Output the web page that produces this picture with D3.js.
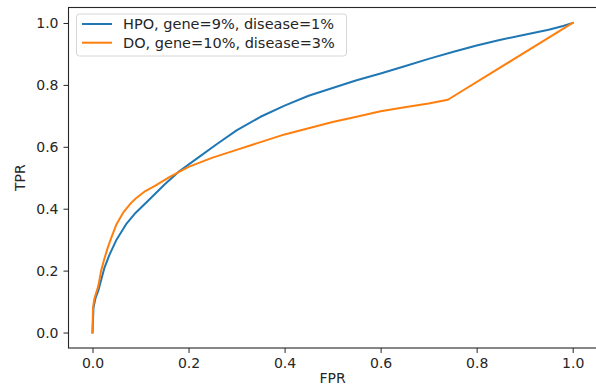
<!DOCTYPE html>
<html>
<head>
<meta charset="utf-8">
<script src="https://cdn.jsdelivr.net/npm/d3@7"></script>
<style>
  body { margin: 0; background: #fff; }
  svg { display: block; font-family: "DejaVu Sans", sans-serif; }
</style>
</head>
<body>
<div id="chart"></div>
<script>
const width = 596;
const height = 386;

// HPO curve
const hpoFpr = [0, 0.002, 0.006, 0.012, 0.018, 0.025, 0.035, 0.05, 0.07, 0.09, 0.12, 0.15, 0.18, 0.22, 0.26, 0.30, 0.35, 0.40, 0.45, 0.50, 0.55, 0.60, 0.65, 0.70, 0.75, 0.80, 0.85, 0.90, 0.95, 0.98, 1.0];
const hpoTpr = [0, 0.08, 0.11, 0.135, 0.17, 0.21, 0.25, 0.30, 0.35, 0.387, 0.432, 0.478, 0.52, 0.565, 0.61, 0.653, 0.697, 0.733, 0.765, 0.79, 0.815, 0.837, 0.86, 0.884, 0.906, 0.927, 0.946, 0.962, 0.978, 0.99, 1.0];

// DO curve
const doFpr = [0, 0.001, 0.004, 0.008, 0.012, 0.018, 0.025, 0.032, 0.04, 0.05, 0.065, 0.08, 0.09, 0.11, 0.13, 0.16, 0.20, 0.25, 0.30, 0.35, 0.40, 0.45, 0.50, 0.55, 0.60, 0.65, 0.70, 0.74, 1.0];
const doTpr = [0, 0.08, 0.11, 0.13, 0.15, 0.20, 0.24, 0.275, 0.31, 0.35, 0.39, 0.418, 0.433, 0.457, 0.474, 0.502, 0.535, 0.565, 0.59, 0.615, 0.64, 0.66, 0.68, 0.697, 0.715, 0.728, 0.74, 0.752, 1.0];

const seriesNames = ["HPO, gene=9%, disease=1%", "DO, gene=10%, disease=3%"];
const seriesColors = ["#1f77b4", "#ff7f0e"];
const ticks = [0, 0.2, 0.4, 0.6, 0.8, 1.0];

const series = [
  { name: seriesNames[0], color: seriesColors[0], points: hpoFpr.map((f, i) => [f, hpoTpr[i]]) },
  { name: seriesNames[1], color: seriesColors[1], points: doFpr.map((f, i) => [f, doTpr[i]]) },
];

const x = d3.scaleLinear().domain([-0.05, 1.05]).range([68.5, 596.7]);
const y = d3.scaleLinear().domain([-0.05, 1.05]).range([348, 7.5]);

const svg = d3.select("#chart").append("svg")
  .attr("width", width)
  .attr("height", height);

const line = d3.line()
  .x((d) => x(d[0]))
  .y((d) => y(d[1]));

svg.append("g")
  .selectAll("path")
  .data(series)
  .enter()
  .append("path")
  .attr("d", (d) => line(d.points))
  .attr("fill", "none")
  .attr("stroke", (d) => d.color)
  .attr("stroke-width", 2)
  .attr("stroke-linejoin", "round")
  .attr("stroke-linecap", "square");

// axes
const fmt = d3.format(".1f");
const xAxis = svg.append("g")
  .attr("transform", `translate(0,${y.range()[0]})`)
  .call(d3.axisBottom(x).tickValues(ticks).tickFormat(fmt).tickSize(5).tickPadding(5).tickSizeOuter(0));
const yAxis = svg.append("g")
  .attr("transform", `translate(${x.range()[0]},0)`)
  .call(d3.axisLeft(y).tickValues(ticks).tickFormat(fmt).tickSize(5).tickPadding(5).tickSizeOuter(0));

[xAxis, yAxis].forEach((g) => {
  g.selectAll("text")
    .attr("font-family", "DejaVu Sans, sans-serif")
    .attr("font-size", 14)
    .attr("fill", "#262626");
  g.selectAll("line").attr("stroke", "#262626").attr("stroke-width", 1);
  g.select(".domain").remove();
});

// frame
svg.append("rect")
  .attr("x", x.range()[0])
  .attr("y", y.range()[1])
  .attr("width", x.range()[1] - x.range()[0])
  .attr("height", y.range()[0] - y.range()[1])
  .attr("fill", "none")
  .attr("stroke", "#262626")
  .attr("stroke-width", 1.1);

// axis labels
svg.append("text")
  .attr("x", (x.range()[0] + x.range()[1]) / 2)
  .attr("y", 383)
  .attr("text-anchor", "middle")
  .attr("font-size", 14)
  .attr("fill", "#262626")
  .text("FPR");

svg.append("text")
  .attr("transform", `translate(25,${(y.range()[0] + y.range()[1]) / 2}) rotate(-90)`)
  .attr("text-anchor", "middle")
  .attr("font-size", 14)
  .attr("fill", "#262626")
  .text("TPR");

// legend
const legend = svg.append("g");
legend.append("rect")
  .attr("x", 76.5)
  .attr("y", 14)
  .attr("width", 270)
  .attr("height", 42)
  .attr("rx", 3)
  .attr("fill", "#fff")
  .attr("fill-opacity", 0.8)
  .attr("stroke", "#d6d6d6")
  .attr("stroke-width", 1);

const items = legend.selectAll("g.item")
  .data(series)
  .enter()
  .append("g")
  .attr("transform", (d, i) => `translate(0,${24 + i * 18.7})`);

items.append("line")
  .attr("x1", 82)
  .attr("x2", 112)
  .attr("stroke", (d) => d.color)
  .attr("stroke-width", 2);

items.append("text")
  .attr("x", 123)
  .attr("y", 5)
  .attr("font-size", 14.5)
  .attr("fill", "#262626")
  .text((d) => d.name);
</script>
</body>
</html>
